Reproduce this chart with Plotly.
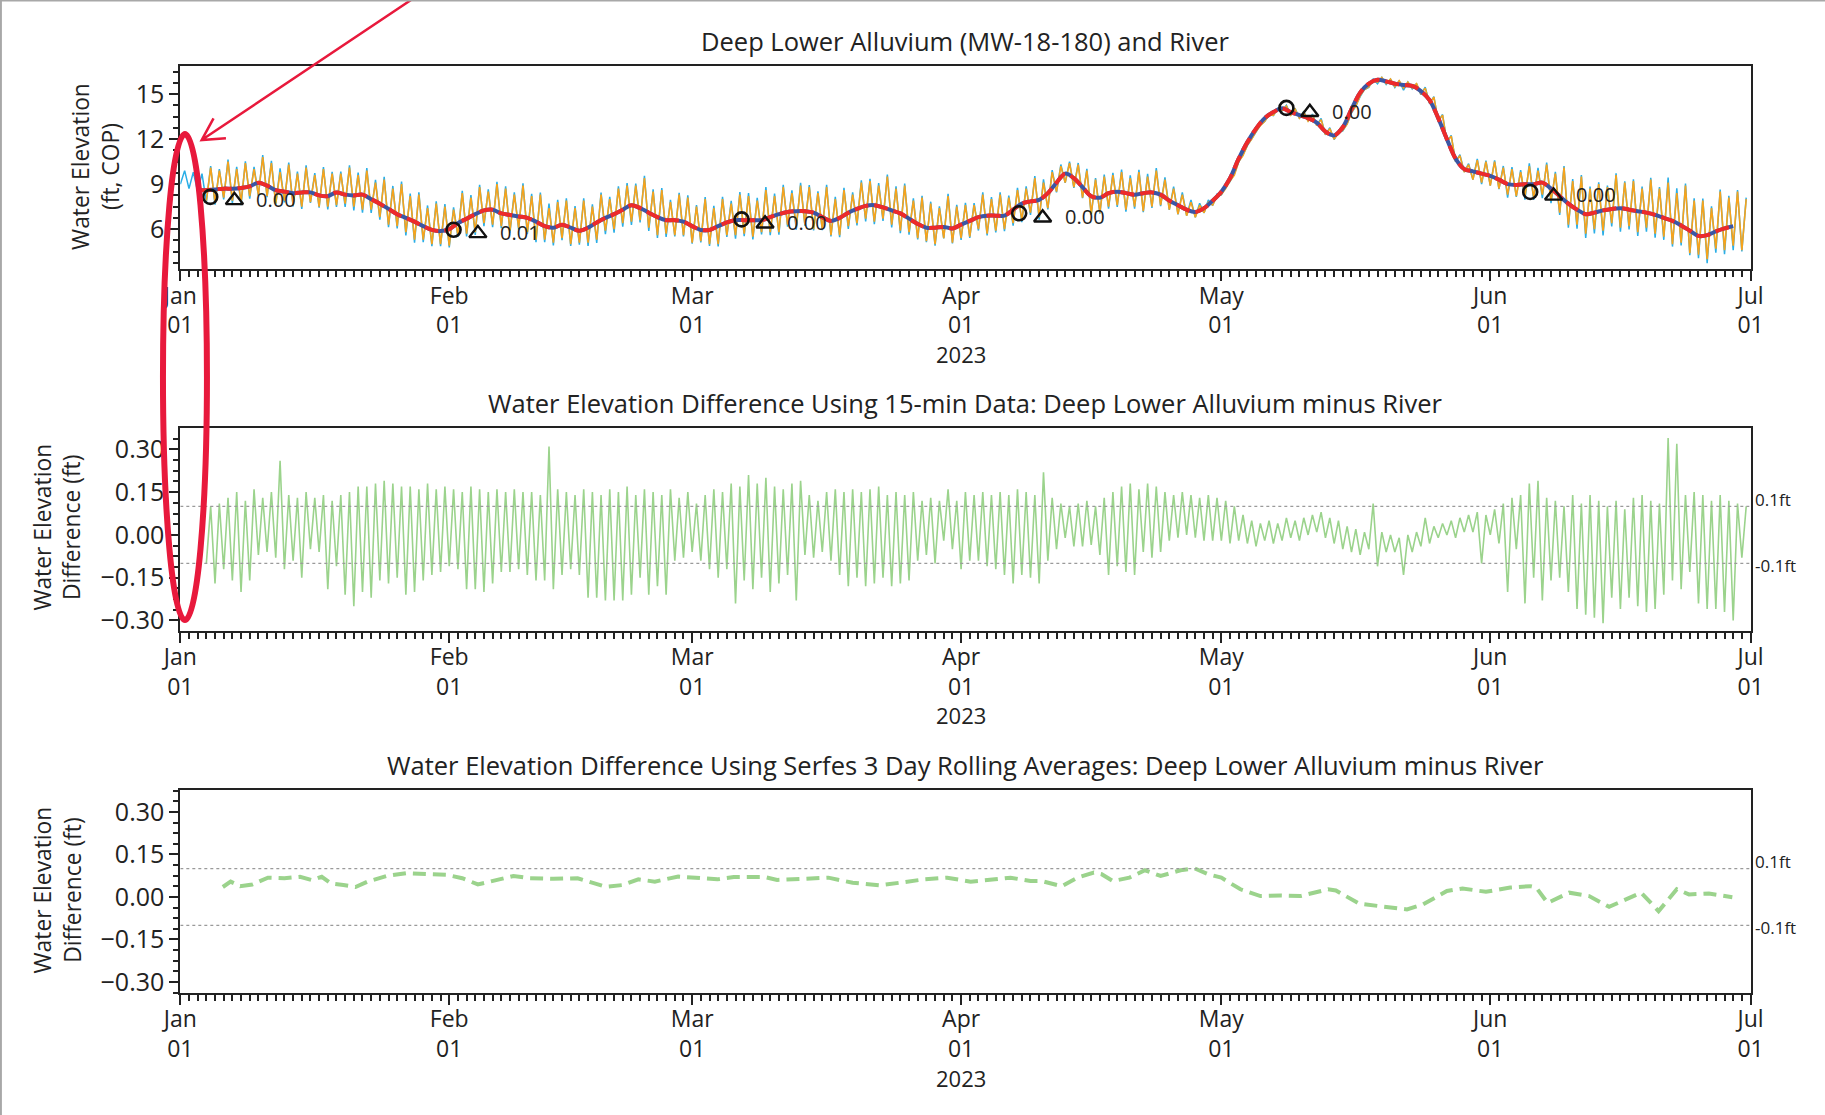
import pandas as pd
import plotly.graph_objects as go

start = pd.Timestamp("2023-01-01")

# ---- panel 1: water elevation (ft, COP), one low and one high per day ----
well_early_days = [0, 1, 2]
well_early_hi = [9.9, 9.8, 9.7]
well_early_lo = [9.0, 8.7, 8.5]

river_days = list(range(3, 181))
river_hi = [
    10.1, 9.9, 10.5, 10.0, 10.4, 10.0, 10.8, 10.4, 9.8, 10.3,
    9.7, 10.1, 9.6, 10.0, 9.7, 9.7, 10.1, 9.6, 9.9, 9.1,
    9.3, 8.7, 9.0, 8.2, 8.3, 7.4, 7.7, 7.5, 7.3, 8.4,
    8.1, 8.8, 8.5, 9.0, 8.7, 8.3, 8.9, 8.2, 8.3, 7.4,
    7.8, 7.9, 7.4, 7.9, 7.5, 8.3, 8.0, 8.7, 8.9, 8.9,
    9.4, 8.5, 8.6, 7.8, 8.3, 8.1, 7.5, 8.0, 7.4, 8.0,
    7.7, 8.3, 8.2, 7.9, 8.6, 8.2, 8.8, 8.4, 8.9, 8.8,
    8.4, 8.8, 8.0, 8.6, 8.3, 9.1, 9.2, 8.9, 9.5, 8.7,
    8.9, 7.9, 8.1, 7.7, 7.4, 8.2, 7.5, 7.6, 7.6, 8.3,
    8.0, 8.3, 8.1, 8.6, 8.7, 9.4, 9.1, 9.8, 10.2, 10.4,
    10.3, 9.9, 9.3, 9.5, 9.6, 9.8, 9.4, 9.8, 9.5, 9.9,
    9.3, 8.7, 8.3, 7.8, 7.6, 7.8, 8.2, 8.7, 9.6, 10.9,
    12.0, 12.9, 13.6, 14.0, 14.2, 14.0, 13.8, 13.6, 13.3, 12.7,
    12.4, 13.0, 14.2, 15.3, 15.9, 16.1, 16.0, 15.9, 15.8, 15.7,
    15.4, 14.8, 13.6, 12.2, 10.9, 10.3, 10.6, 10.5, 10.5, 10.1,
    10.0, 9.8, 10.2, 9.9, 10.3, 9.7, 10.1, 9.2, 9.5, 8.7,
    9.0, 8.8, 9.6, 9.1, 9.2, 8.7, 9.3, 8.7, 9.1, 8.4,
    8.9, 7.9, 7.9, 7.4, 8.5, 8.1, 8.5, 8.0,
]
river_lo = [
    7.9, 7.8, 8.1, 7.9, 7.8, 8.2, 8.3, 8.2, 7.7, 7.9,
    7.6, 7.5, 7.8, 7.5, 7.5, 7.6, 7.7, 7.5, 7.3, 7.3,
    6.8, 6.3, 6.2, 5.8, 5.3, 5.3, 5.0, 5.0, 4.9, 5.6,
    5.7, 5.8, 6.4, 6.3, 6.2, 5.9, 6.1, 5.8, 5.3, 5.3,
    5.1, 5.4, 5.0, 5.1, 5.1, 5.3, 5.9, 6.0, 6.4, 6.5,
    6.6, 6.1, 5.6, 5.7, 5.6, 5.6, 5.1, 5.2, 5.0, 5.0,
    5.6, 5.6, 5.7, 5.5, 5.8, 5.8, 5.8, 6.3, 6.2, 6.3,
    6.0, 6.0, 5.6, 5.6, 6.2, 6.4, 6.7, 6.5, 6.7, 6.3,
    5.9, 5.8, 5.4, 5.2, 5.0, 5.4, 5.1, 5.4, 5.5, 6.0,
    5.7, 5.9, 6.0, 6.4, 6.6, 7.1, 6.8, 7.4, 8.5, 9.1,
    8.8, 8.1, 7.0, 7.1, 7.5, 7.6, 7.3, 7.5, 7.2, 7.5,
    7.6, 7.3, 7.0, 6.9, 6.8, 7.1, 7.6, 8.3, 9.2, 10.5,
    11.6, 12.5, 13.2, 13.6, 13.9, 13.6, 13.4, 13.2, 12.9, 12.3,
    12.0, 12.6, 13.8, 14.9, 15.5, 15.8, 15.7, 15.5, 15.4, 15.4,
    15.0, 14.4, 13.2, 11.8, 10.5, 9.8, 9.3, 9.1, 8.9, 8.7,
    8.3, 8.2, 8.2, 8.1, 8.3, 7.9, 7.1, 6.3, 6.3, 5.7,
    6.0, 5.9, 6.4, 6.1, 6.2, 5.8, 6.1, 5.7, 5.5, 5.0,
    5.1, 4.4, 4.3, 4.0, 4.7, 4.6, 4.9, 4.6,
]

roll_days = list(range(2, 180))
roll_avg = [
    8.6, 8.6, 8.65, 8.7, 8.7, 8.75, 8.85, 9.1, 8.9, 8.6,
    8.5, 8.4, 8.45, 8.45, 8.25, 8.2, 8.45, 8.3, 8.25, 8.3,
    8.0, 7.7, 7.35, 7.0, 6.75, 6.5, 6.2, 5.95, 5.87, 6.0,
    6.4, 6.7, 7.0, 7.25, 7.3, 7.05, 6.95, 6.85, 6.75, 6.5,
    6.2, 6.1, 6.3, 6.1, 5.9, 6.1, 6.45, 6.75, 7.0, 7.3,
    7.6, 7.4, 7.1, 6.8, 6.6, 6.6, 6.5, 6.2, 5.95, 5.95,
    6.2, 6.45, 6.6, 6.6, 6.6, 6.6, 6.8, 7.0, 7.15, 7.2,
    7.2, 7.1, 6.8, 6.55, 6.75, 7.1, 7.35, 7.55, 7.6, 7.45,
    7.25, 7.05, 6.7, 6.35, 6.1, 6.1, 6.15, 6.05, 6.3, 6.55,
    6.8, 6.9, 6.9, 6.9, 7.3, 7.7, 7.85, 7.95, 8.4, 9.1,
    9.7, 9.4, 8.8, 8.2, 8.1, 8.4, 8.5, 8.4, 8.3, 8.4,
    8.45, 8.3, 7.9, 7.6, 7.3, 7.15, 7.4, 7.9, 8.5, 9.4,
    10.7, 11.8, 12.7, 13.4, 13.8, 14.05, 13.8, 13.6, 13.4, 13.1,
    12.5, 12.25, 12.8, 14.0, 15.1, 15.7, 15.95, 15.85, 15.7, 15.6,
    15.55, 15.2, 14.6, 13.4, 12.0, 10.7, 10.0, 9.85, 9.7, 9.55,
    9.3, 9.0, 8.95, 9.0, 9.0, 9.1, 8.7, 8.2, 7.7, 7.3,
    7.0, 7.1, 7.25, 7.35, 7.4, 7.3, 7.2, 7.1, 6.95, 6.75,
    6.55, 6.25, 5.9, 5.55, 5.6, 5.85, 6.05, 6.2,
]

circle_days = [3.45, 31.5, 64.7, 96.7, 127.5, 155.6]
circle_vals = [8.15, 5.96, 6.65, 7.06, 14.08, 8.48]
triangle_days = [6.24, 34.3, 67.4, 99.4, 130.2, 158.3]
triangle_vals = [7.92, 5.72, 6.36, 6.76, 13.79, 8.22]
marker_labels = ["0.00", "0.01", "0.00", "0.00", "0.00", "0.00"]

# ---- panel 2: 15-min difference (ft), one low and one high per day ----
diff_hi = [
    0.10, 0.11, 0.13, 0.15, 0.12, 0.16, 0.13, 0.15, 0.26, 0.14,
    0.13, 0.15, 0.13, 0.14, 0.12, 0.14, 0.15, 0.17, 0.17, 0.18,
    0.19, 0.18, 0.17, 0.17, 0.16, 0.18, 0.16, 0.17, 0.16, 0.15,
    0.17, 0.16, 0.15, 0.16, 0.15, 0.16, 0.15, 0.15, 0.14, 0.31,
    0.16, 0.15, 0.14, 0.16, 0.15, 0.14, 0.16, 0.15, 0.17, 0.14,
    0.16, 0.15, 0.14, 0.16, 0.13, 0.15, 0.11, 0.14, 0.16, 0.15,
    0.18, 0.17, 0.21, 0.18, 0.20, 0.17, 0.16, 0.18, 0.19, 0.14,
    0.12, 0.15, 0.16, 0.15, 0.16, 0.15, 0.16, 0.17, 0.14, 0.15,
    0.14, 0.15, 0.12, 0.13, 0.12, 0.16, 0.12, 0.15, 0.14, 0.15,
    0.14, 0.15, 0.14, 0.16, 0.15, 0.14, 0.22, 0.13, 0.11, 0.10,
    0.11, 0.12, 0.10, 0.13, 0.15, 0.17, 0.18, 0.16, 0.18, 0.17,
    0.15, 0.14, 0.15, 0.14, 0.13, 0.14, 0.13, 0.12, 0.10, 0.07,
    0.05, 0.04, 0.05, 0.04, 0.06, 0.05, 0.06, 0.07, 0.08, 0.06,
    0.05, 0.03, 0.02, 0.01, 0.11, 0.01, 0.00, -0.01, 0.00, 0.01,
    0.06, 0.03, 0.04, 0.05, 0.06, 0.07, 0.08, 0.07, 0.09, 0.11,
    0.13, 0.14, 0.18, 0.19, 0.13, 0.12, 0.10, 0.14, 0.11, 0.14,
    0.12, 0.10, 0.12, 0.09, 0.13, 0.14, 0.12, 0.11, 0.34, 0.32,
    0.14, 0.15, 0.14, 0.12, 0.14, 0.12, 0.11, 0.10,
]
diff_lo = [
    -0.10, -0.17, -0.12, -0.16, -0.20, -0.16, -0.07, -0.06, -0.08, -0.12,
    -0.09, -0.15, -0.05, -0.06, -0.19, -0.11, -0.21, -0.25, -0.20, -0.22,
    -0.16, -0.17, -0.15, -0.21, -0.20, -0.16, -0.14, -0.13, -0.11, -0.12,
    -0.19, -0.19, -0.20, -0.17, -0.13, -0.13, -0.12, -0.14, -0.16, -0.16,
    -0.19, -0.14, -0.12, -0.14, -0.22, -0.22, -0.23, -0.23, -0.23, -0.21,
    -0.15, -0.21, -0.18, -0.21, -0.09, -0.08, -0.06, -0.09, -0.12, -0.15,
    -0.12, -0.24, -0.16, -0.19, -0.15, -0.20, -0.17, -0.14, -0.23, -0.07,
    -0.08, -0.06, -0.09, -0.14, -0.18, -0.15, -0.18, -0.17, -0.15, -0.18,
    -0.17, -0.16, -0.09, -0.07, -0.10, -0.02, -0.05, -0.12, -0.09, -0.09,
    -0.11, -0.12, -0.14, -0.17, -0.14, -0.15, -0.17, -0.09, -0.05, -0.01,
    -0.04, -0.04, -0.035, -0.07, -0.14, -0.11, -0.13, -0.14, -0.06, -0.08,
    -0.06, -0.02, -0.01, 0.00, -0.01, -0.02, -0.02, -0.02, -0.03, -0.02,
    -0.03, -0.04, -0.02, -0.03, -0.02, -0.01, -0.02, 0.00, 0.01, -0.01,
    -0.03, -0.05, -0.06, -0.07, -0.05, -0.11, -0.06, -0.06, -0.14, -0.06,
    -0.04, -0.03, -0.01, 0.00, -0.01, 0.01, 0.01, -0.10, 0.00, -0.03,
    -0.20, -0.05, -0.24, -0.15, -0.23, -0.16, -0.15, -0.20, -0.26, -0.28,
    -0.29, -0.31, -0.22, -0.26, -0.22, -0.25, -0.27, -0.26, -0.21, -0.16,
    -0.19, -0.13, -0.24, -0.26, -0.26, -0.27, -0.30, -0.08,
]

# ---- panel 3: difference of 3 day rolling averages (ft) ----
serfes_days = [
    4.9, 5.8, 6.9, 8.3, 10.1, 12.0, 13.8, 15.2, 16.3, 17.4,
    18.8, 20.2, 21.6, 23.8, 26.1, 28.4, 30.7, 32.5, 34.3, 35.7,
    38.4, 40.3, 43.0, 45.8, 47.1, 49.0, 51.0, 52.8, 54.7, 57.4,
    60.1, 61.9, 63.8, 67.4, 68.8, 72.0, 74.7, 77.5, 80.7, 82.9,
    85.7, 88.4, 91.1, 93.9, 95.7, 98.0, 99.3, 101.6, 103.4, 105.3,
    106.2, 107.5, 109.4, 111.2, 113.0, 115.3, 116.9, 118.5, 120.0, 122.2,
    124.5, 126.8, 129.1, 132.3, 133.2, 135.9, 138.7, 141.4, 143.2, 146.0,
    147.8, 150.5, 153.3, 155.6, 156.3, 157.6, 160.1, 162.4, 164.7, 167.0,
    168.4, 170.4, 172.5, 173.9, 176.2, 178.9,
]
serfes_diff = [
    0.035, 0.054, 0.038, 0.044, 0.068, 0.066, 0.071, 0.059, 0.071, 0.047,
    0.042, 0.035, 0.054, 0.074, 0.084, 0.080, 0.078, 0.066, 0.044, 0.054,
    0.074, 0.066, 0.064, 0.066, 0.054, 0.036, 0.042, 0.062, 0.054, 0.072,
    0.066, 0.062, 0.070, 0.070, 0.060, 0.066, 0.068, 0.050, 0.041, 0.050,
    0.062, 0.068, 0.054, 0.062, 0.068, 0.056, 0.056, 0.038, 0.068, 0.086,
    0.080, 0.056, 0.068, 0.094, 0.074, 0.094, 0.101, 0.080, 0.068, 0.027,
    0.003, 0.005, 0.003, 0.027, 0.023, -0.024, -0.034, -0.044, -0.027, 0.021,
    0.030, 0.018, 0.033, 0.038, 0.033, -0.021, 0.015, 0.003, -0.035, -0.003,
    0.015, -0.050, 0.027, 0.009, 0.012, -0.001,
]

month_ticks = ["2023-01-01", "2023-02-01", "2023-03-01", "2023-04-01",
               "2023-05-01", "2023-06-01", "2023-07-01"]
month_labels = ["Jan<br>01", "Feb<br>01", "Mar<br>01", "Apr<br>01",
                "May<br>01", "Jun<br>01", "Jul<br>01"]
year_label = "2023"
diff_ticks = [-0.30, -0.15, 0.0, 0.15, 0.30]
diff_labels = ["\u22120.30", "\u22120.15", "0.00", "0.15", "0.30"]


def day(d):
    return start + pd.Timedelta(days=d)


def zigzag(days, lows, highs):
    xs, ys = [], []
    for d, lo, hi in zip(days, lows, highs):
        xs += [day(d), day(d + 0.5)]
        ys += [lo, hi]
    return xs, ys


river_x, river_y = zigzag(river_days, river_lo, river_hi)
diff_x, diff_y = zigzag(river_days, diff_lo, diff_hi)
# deep lower alluvium = river + difference
well_lo = well_early_lo + [r + d for r, d in zip(river_lo, diff_lo)]
well_hi = well_early_hi + [r + d for r, d in zip(river_hi, diff_hi)]
well_x, well_y = zigzag(well_early_days + river_days, well_lo, well_hi)

FONT = "Open Sans, Noto Sans, sans-serif"
INK = "#222222"
GREEN = "#9bd38c"

fig = go.Figure()
fig.add_trace(go.Scatter(x=well_x, y=well_y, mode="lines",
                         line=dict(color="#2aaee6", width=1.5), xaxis="x", yaxis="y"))
fig.add_trace(go.Scatter(x=river_x, y=river_y, mode="lines",
                         line=dict(color="#f6a31c", width=1.6), xaxis="x", yaxis="y"))
roll_x = [day(d) for d in roll_days]
fig.add_trace(go.Scatter(x=roll_x, y=roll_avg, mode="lines",
                         line=dict(color="#3b56a4", width=4, shape="spline"),
                         xaxis="x", yaxis="y"))
fig.add_trace(go.Scatter(x=roll_x, y=roll_avg, mode="lines",
                         line=dict(color="#ee2a2a", width=4, shape="spline", dash="14px,6px"),
                         xaxis="x", yaxis="y"))
fig.add_trace(go.Scatter(x=[day(d) for d in circle_days], y=circle_vals, mode="markers",
                         marker=dict(symbol="circle-open", size=14, color="#111111",
                                     line=dict(width=2.6)),
                         xaxis="x", yaxis="y"))
fig.add_trace(go.Scatter(x=[day(d) for d in triangle_days], y=triangle_vals, mode="markers",
                         marker=dict(symbol="triangle-up-open", size=15, color="#111111",
                                     line=dict(width=2.4)),
                         xaxis="x", yaxis="y"))

fig.add_trace(go.Scatter(x=diff_x, y=diff_y, mode="lines",
                         line=dict(color=GREEN, width=1.6), xaxis="x2", yaxis="y2"))
fig.add_trace(go.Scatter(x=[day(d) for d in serfes_days], y=serfes_diff, mode="lines",
                         line=dict(color=GREEN, width=4, dash="13px,7px"),
                         xaxis="x3", yaxis="y3"))

xdom = [0.0988, 0.9592]
ydoms = [[0.7588, 0.9405], [0.4343, 0.6159], [0.1096, 0.2912]]


def xaxis_style(anchor):
    return dict(
        domain=xdom, anchor=anchor, type="date", automargin=False,
        range=["2023-01-01", "2023-07-01"],
        tickmode="array", tickvals=month_ticks, ticktext=month_labels,
        ticks="outside", ticklen=10, tickwidth=2, tickcolor=INK,
        ticklabelstandoff=-5,
        tickfont=dict(family=FONT, size=23, color=INK),
        showline=True, linecolor=INK, linewidth=2, mirror=True,
        showgrid=False, zeroline=False,
        minor=dict(tickmode="linear", tick0="2023-01-01", dtick=86400000,
                   ticks="outside", ticklen=6, tickwidth=1.5, tickcolor=INK, showgrid=False),
    )


def yaxis_style(anchor, dom, rng, vals, texts, minor_step):
    return dict(
        domain=dom, anchor=anchor, range=rng, automargin=False,
        tickmode="array", tickvals=vals, ticktext=texts,
        ticks="outside", ticklen=9, tickwidth=2, tickcolor=INK,
        tickfont=dict(family=FONT, size=25, color=INK),
        showline=True, linecolor=INK, linewidth=2, mirror=True,
        showgrid=False, zeroline=False,
        minor=dict(tickmode="linear", tick0=0, dtick=minor_step,
                   ticks="outside", ticklen=5, tickwidth=1.5, tickcolor=INK, showgrid=False),
    )


annotations = []
titles = [
    "Deep Lower Alluvium (MW-18-180) and River",
    "Water Elevation Difference Using 15-min Data: Deep Lower Alluvium minus River",
    "Water Elevation Difference Using Serfes 3 Day Rolling Averages: Deep Lower Alluvium minus River",
]
title_y = [0.9635, 0.6388, 0.3142]
for t, ty in zip(titles, title_y):
    annotations.append(dict(text=t, x=0.5288, y=ty, xref="paper", yref="paper",
                            xanchor="center", yanchor="middle", showarrow=False,
                            font=dict(family=FONT, size=25.5, color=INK)))

ytitles = ["Water Elevation<br>(ft, COP)", "Water Elevation<br>Difference (ft)",
           "Water Elevation<br>Difference (ft)"]
ytitle_pos = [(0.0526, 0.8512), (0.0316, 0.5274), (0.0316, 0.2020)]
for t, (px, py) in zip(ytitles, ytitle_pos):
    annotations.append(dict(text=t, x=px, y=py, xref="paper", yref="paper",
                            xanchor="center", yanchor="middle", showarrow=False, textangle=-90,
                            font=dict(family=FONT, size=22.8, color=INK)))

# year under the Apr 01 tick of every panel
for xref, dom in zip(["x", "x2", "x3"], ydoms):
    annotations.append(dict(text=year_label, x=month_ticks[3], y=dom[0] - 0.076,
                            xref=xref, yref="paper", xanchor="center", yanchor="middle",
                            showarrow=False, font=dict(family=FONT, size=22, color=INK)))

for yref in ["y2", "y3"]:
    annotations.append(dict(text="0.1ft", x=0.9605, y=0.1, xref="paper", yref=yref,
                            xanchor="left", yanchor="middle", yshift=7, showarrow=False,
                            font=dict(family=FONT, size=17, color=INK)))
    annotations.append(dict(text="-0.1ft", x=0.9605, y=-0.1, xref="paper", yref=yref,
                            xanchor="left", yanchor="middle", yshift=-2, showarrow=False,
                            font=dict(family=FONT, size=17, color=INK)))

for d, v, lab in zip(triangle_days, triangle_vals, marker_labels):
    annotations.append(dict(text=lab, x=day(d), y=v, xref="x", yref="y",
                            xanchor="left", yanchor="middle", xshift=20, yshift=1,
                            showarrow=False, font=dict(family=FONT, size=20, color=INK)))

shapes = []
for yref in ["y2", "y3"]:
    for lvl in [0.1, -0.1]:
        shapes.append(dict(type="line", xref="x2" if yref == "y2" else "x3", yref=yref,
                           x0="2023-01-01", x1="2023-07-01", y0=lvl, y1=lvl,
                           line=dict(color="#9a9a9a", width=1.2, dash="dot")))

RED = "#e8193c"
# hand-drawn highlight: ellipse round the Jan 01 edge and arrow pointing to it
shapes.append(dict(type="circle", xref="paper", yref="paper",
                   x0=0.0893, x1=0.1134, y0=0.4439, y1=0.8798,
                   line=dict(color=RED, width=6)))
shapes.append(dict(type="path", xref="paper", yref="paper",
                   path="M 0.2252,1.0 L 0.1105,0.8744 M 0.1170,0.8939 L 0.1105,0.8744 L 0.1238,0.8760",
                   line=dict(color=RED, width=2.5)))
# screenshot frame
shapes.append(dict(type="line", xref="paper", yref="paper", x0=0, x1=1, y0=0.9995, y1=0.9995,
                   line=dict(color="#a8a8a8", width=2)))
shapes.append(dict(type="line", xref="paper", yref="paper", x0=0.0005, x1=0.0005, y0=0, y1=1,
                   line=dict(color="#a8a8a8", width=2)))

fig.update_layout(
    width=1825, height=1115, autosize=False,
    margin=dict(l=0, r=0, t=0, b=0, autoexpand=False),
    paper_bgcolor="white", plot_bgcolor="white",
    showlegend=False, hovermode=False,
    font=dict(family=FONT, color=INK),
    xaxis=xaxis_style("y"),
    xaxis2=xaxis_style("y2"),
    xaxis3=xaxis_style("y3"),
    yaxis=yaxis_style("x", ydoms[0], [3.35, 16.85], [6, 9, 12, 15], ["6", "9", "12", "15"], 0.75),
    yaxis2=yaxis_style("x2", ydoms[1], [-0.336, 0.374], diff_ticks, diff_labels, 0.0375),
    yaxis3=yaxis_style("x3", ydoms[2], [-0.338, 0.376], diff_ticks, diff_labels, 0.0375),
    annotations=annotations,
    shapes=shapes,
)

fig.write_html("out.html", config={"displayModeBar": False},
               post_script="document.body.style.margin='0';document.body.style.overflow='hidden';")
